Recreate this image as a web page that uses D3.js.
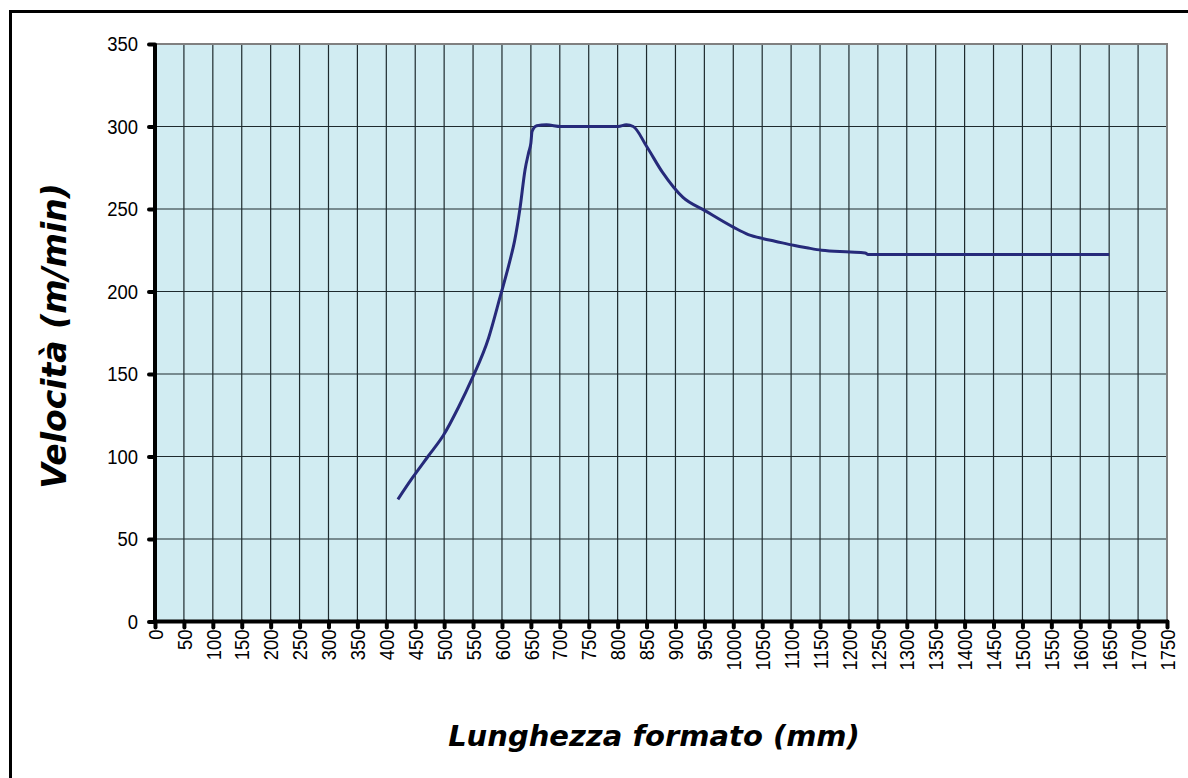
<!DOCTYPE html>
<html lang="it">
<head>
<meta charset="UTF-8">
<title>Velocità</title>
<style>
  body { margin: 0; background: #fff; }
  svg { display: block; }
</style>
</head>
<body>
<svg id="chart" width="1188" height="778"></svg>
<script src="https://cdn.jsdelivr.net/npm/d3@7/dist/d3.min.js"></script>
<script>
// lunghezza formato (mm) e velocità (m/min)
var lunghezza = [420, 445, 472, 499, 525, 548, 577, 597, 614, 622, 631, 640, 646, 650, 652,
                 660, 677, 702, 750, 801, 815, 827, 850, 878, 913, 951, 1000, 1026, 1052, 1072,
                 1104, 1127, 1153, 1202, 1228, 1233, 1650];
var velocita = [74, 87, 100, 113, 130, 147, 172, 197, 219, 231, 250, 274, 284, 290, 297,
                300.5, 301, 300, 300, 300, 301, 300, 288, 272, 257, 249, 239, 234.5, 232, 230.5,
                228, 226.5, 225, 224, 223.4, 222.4, 222.4];
var xTicks = d3.range(0, 1751, 50);
var yTicks = d3.range(0, 351, 50);

var margin = {left: 155, top: 44, right: 1167, bottom: 621.5};
var sx = 0.9; // le etichette sono un po' strette

var svg = d3.select("#chart");

// cornice esterna
svg.append("rect")
    .attr("x", 10.5).attr("y", 11.5)
    .attr("width", 1200).attr("height", 800)
    .attr("fill", "none")
    .attr("stroke", "#000")
    .attr("stroke-width", 3);

var x = d3.scaleLinear().domain([0, 1750]).range([margin.left, margin.right]);
var y = d3.scaleLinear().domain([0, 350]).range([margin.bottom, margin.top]);

// sfondo area grafico
svg.append("rect")
    .attr("x", x(0)).attr("y", y(350))
    .attr("width", x(1750) - x(0)).attr("height", y(0) - y(350))
    .attr("fill", "#d1ecf2");

// griglia
svg.append("g")
    .selectAll("line")
    .data(xTicks.slice(1, -1))
    .join("line")
    .attr("x1", d => x(d)).attr("x2", d => x(d))
    .attr("y1", y(350)).attr("y2", y(0))
    .attr("stroke", "#1e2a2e")
    .attr("stroke-width", 1.2);

svg.append("g")
    .selectAll("line")
    .data(yTicks.slice(1, -1))
    .join("line")
    .attr("x1", x(0)).attr("x2", x(1750))
    .attr("y1", d => y(d)).attr("y2", d => y(d))
    .attr("stroke", "#1e2a2e")
    .attr("stroke-width", 1.2);

// bordo superiore e destro grigio
svg.append("path")
    .attr("d", `M${x(0)},${y(350)}H${x(1750)}V${y(0)}`)
    .attr("fill", "none")
    .attr("stroke", "#808080")
    .attr("stroke-width", 2);

// curva
var punti = lunghezza.map((l, i) => [l, velocita[i]]);
var line = d3.line()
    .x(d => x(d[0]))
    .y(d => y(d[1]))
    .curve(d3.curveMonotoneX);

svg.append("path")
    .datum(punti)
    .attr("fill", "none")
    .attr("stroke", "#262a7a")
    .attr("stroke-width", 3)
    .attr("stroke-linejoin", "round")
    .attr("d", line);

// assi
var yAxis = svg.append("g")
    .attr("transform", `translate(${x(0)},0)`)
    .call(d3.axisLeft(y).tickValues(yTicks).tickFormat(d3.format("d")).tickSize(6));

var xAxis = svg.append("g")
    .attr("transform", `translate(0,${y(0)})`)
    .call(d3.axisBottom(x).tickValues(xTicks).tickFormat(d3.format("d")).tickSize(6));

[xAxis, yAxis].forEach(g => {
    g.attr("font-size", null).attr("font-family", null);
    g.select(".domain")
        .attr("stroke", "#000")
        .attr("stroke-width", 4);
    g.selectAll(".tick line")
        .attr("stroke", "#000")
        .attr("stroke-width", 4)
        .attr("stroke-linecap", "round");
    g.selectAll(".tick text")
        .attr("fill", "#000")
        .style("font-family", "'Liberation Sans', Arial, sans-serif")
        .style("font-size", "20.5px");
});
xAxis.select(".domain").attr("d", `M${x(0) - 2},0H${x(1750) + 1}`);
yAxis.select(".domain").attr("d", `M0,${y(0) + 2}V${y(350)}`);

yAxis.selectAll(".tick text")
    .attr("transform", `scale(${sx},1)`)
    .attr("x", -17 / sx);

xAxis.selectAll(".tick text")
    .attr("transform", `rotate(-90) scale(${sx},1)`)
    .attr("text-anchor", "end")
    .attr("dy", "0.35em")
    .attr("x", -8 / sx)
    .attr("y", 0);

// titoli assi
svg.append("text")
    .attr("x", 654)
    .attr("y", 746)
    .attr("text-anchor", "middle")
    .style("font-family", "'DejaVu Sans', Verdana, sans-serif")
    .style("font-weight", "bold")
    .style("font-style", "italic")
    .style("font-size", "29px")
    .text("Lunghezza formato (mm)");

svg.append("text")
    .attr("transform", "translate(66,336) rotate(-90)")
    .attr("text-anchor", "middle")
    .style("font-family", "'DejaVu Sans', Verdana, sans-serif")
    .style("font-weight", "bold")
    .style("font-style", "italic")
    .style("font-size", "33px")
    .text("Velocità (m/min)");
</script>
</body>
</html>
